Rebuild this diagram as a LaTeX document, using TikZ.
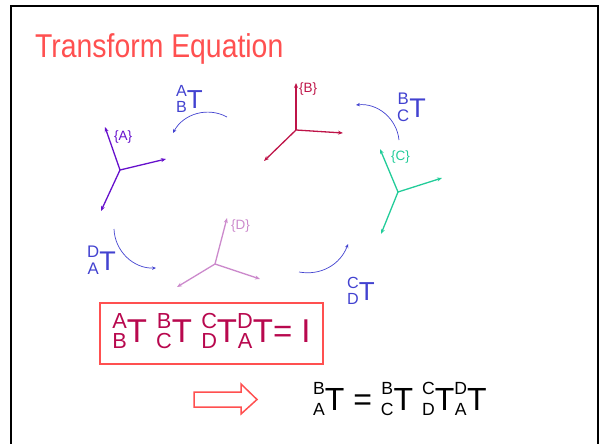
\documentclass[tikz,border=0pt]{standalone}
\usepackage{fontspec}
\setmainfont{Liberation Sans}
\usepackage{graphicx}
\usetikzlibrary{arrows.meta}
\definecolor{TitleRed}{HTML}{FF5050}
\definecolor{FrameA}{HTML}{6610CC}
\definecolor{FrameB}{HTML}{BE1448}
\definecolor{FrameC}{HTML}{22CC99}
\definecolor{FrameD}{HTML}{CC8ACC}
\definecolor{TurnBlue}{HTML}{4242D0}
\definecolor{LoopInk}{HTML}{B8084E}
\newcommand{\fs}[2]{\fontsize{#1}{#2}\selectfont}
\newcommand{\preT}[3][.62]{\raisebox{-.17em}{\scalebox{#1}{\begin{tabular}[b]{@{}c@{}}#2\\[-.15em]#3\end{tabular}}}T}

\begin{document}
\begin{tikzpicture}[x=1pt,y=-1pt,
    axis/.style={line width=1.3pt,-{Stealth[length=5pt,width=4pt]}},
    turn/.style={TurnBlue,line width=.7pt,bend right=45,-{Stealth[length=4pt,width=3.5pt]}},
    tag/.style={inner sep=0pt,anchor=west,font=\fs{13.5}{16}},
    tlabel/.style={inner sep=0pt,anchor=base west,text=TurnBlue,font=\fs{26}{30}}]
  \useasboundingbox (0,0) rectangle (602,444);
  \clip (0,0) rectangle (602,444);
  \draw[line width=2.5pt] (11,6) rectangle (598,470);
  \node[inner sep=0pt,anchor=base west,xscale=.86,text=TitleRed,font=\fs{33}{40}] (title) at (35,57) {Transform Equation};

  \coordinate (A0) at (120,170); \coordinate (Ay) at (105,127);
  \coordinate (Ax) at (166,159); \coordinate (Az) at (101,211);
  \draw[axis,FrameA] (A0) -- (Ay);
  \draw[axis,FrameA] (A0) -- (Ax);
  \draw[axis,FrameA] (A0) -- (Az);
  \node[tag,text=FrameA] (tagA) at (114,137) {\{A\}};

  \coordinate (B0) at (296,130); \coordinate (By) at (296,83);
  \coordinate (Bx) at (343,133); \coordinate (Bz) at (264,161);
  \draw[axis,FrameB] (B0) -- (By);
  \draw[axis,FrameB] (B0) -- (Bx);
  \draw[axis,FrameB] (B0) -- (Bz);
  \node[tag,text=FrameB] (tagB) at (299,89) {\{B\}};

  \coordinate (C0) at (398,192); \coordinate (Cy) at (380,149);
  \coordinate (Cx) at (442,178); \coordinate (Cz) at (381,234);
  \draw[axis,FrameC] (C0) -- (Cy);
  \draw[axis,FrameC] (C0) -- (Cx);
  \draw[axis,FrameC] (C0) -- (Cz);
  \node[tag,text=FrameC] (tagC) at (391,157) {\{C\}};

  \coordinate (D0) at (215,264); \coordinate (Dy) at (227,218);
  \coordinate (Dx) at (260,279); \coordinate (Dz) at (177,287);
  \draw[axis,FrameD] (D0) -- (Dy);
  \draw[axis,FrameD] (D0) -- (Dx);
  \draw[axis,FrameD] (D0) -- (Dz);
  \node[tag,text=FrameD] (tagD) at (231,226) {\{D\}};

  \coordinate (ab1) at (227,117); \coordinate (ab2) at (173,133);
  \coordinate (bc1) at (399,140); \coordinate (bc2) at (356,105);
  \coordinate (cd1) at (299,272); \coordinate (cd2) at (348,244);
  \coordinate (da1) at (114,229); \coordinate (da2) at (156,268);
  \draw[turn] (ab1) to (ab2);
  \draw[turn] (bc1) to (bc2);
  \draw[turn,bend right=40] (cd1) to (cd2);
  \draw[turn] (da1) to (da2);
  \node[tlabel] (tAB) at (176,108) {\preT AB};
  \node[tlabel,font=\fs{27}{31}] (tBC) at (397,117) {\preT BC};
  \node[tlabel] (tCD) at (347,300) {\preT CD};
  \node[tlabel,font=\fs{27}{31}] (tDA) at (87,270) {\preT DA};

  \node[draw=TitleRed,line width=1.5pt,minimum width=223pt,minimum height=61pt,inner sep=0pt,
    text=LoopInk,font=\fs{33}{35}] (loop) at (211.5,333.5)
    {\preT[.66]AB\ \preT[.66]BC\ \preT[.66]CD\preT[.66]DA= I};
  \draw[TitleRed,line width=1.5pt] (194,392) -- (241,392) -- (241,384) -- (257,399.5)
    -- (241,414) -- (241,407) -- (194,407) -- cycle;
  \node[inner sep=0pt,anchor=base west,font=\fs{32}{43}] (result) at (313,410)
    {\preT[.55]BA = \preT[.55]BC\ \preT[.55]CD\preT[.55]DA};
\end{tikzpicture}
\end{document}
